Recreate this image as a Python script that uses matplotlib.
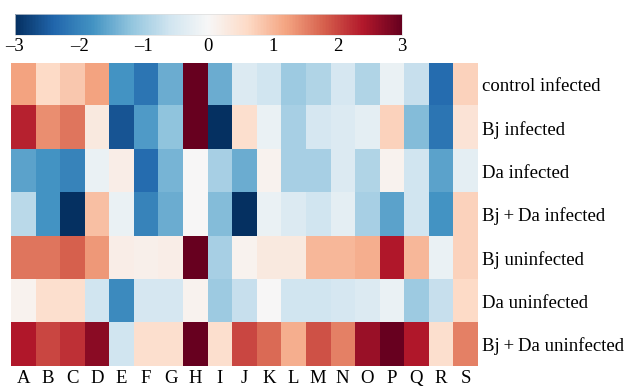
import numpy as np
import matplotlib
matplotlib.use("Agg")
import matplotlib.pyplot as plt

plt.rcParams['font.family'] = ['Liberation Serif', 'DejaVu Serif']

# column labels and row labels
cols = list("ABCDEFGHIJKLMNOPQRS")
rows = ["control infected", "Bj infected", "Da infected", "Bj\u2009+\u2009Da infected",
        "Bj uninfected", "Da uninfected", "Bj\u2009+\u2009Da uninfected"]

# values (z-scores)
control_inf = [1.2, 0.6, 0.8, 1.2, -1.8, -2.2, -1.5, 3.0, -1.5, -0.4, -0.6, -1.1, -0.9, -0.5, -0.9, -0.2, -0.7, -2.3, 0.7]
bj_inf = [2.3, 1.4, 1.6, 0.3, -2.6, -1.7, -1.2, 3.0, -3.0, 0.5, -0.2, -1.0, -0.5, -0.4, -0.3, 0.7, -1.3, -2.2, 0.4]
da_inf = [-1.6, -1.8, -2.0, -0.2, 0.2, -2.3, -1.4, 0.0, -1.0, -1.5, 0.1, -1.0, -1.0, -0.4, -0.9, 0.1, -0.6, -1.6, -0.3]
bjda_inf = [-0.8, -1.8, -3.0, 0.9, -0.2, -2.0, -1.5, 0.0, -1.3, -3.0, -0.2, -0.4, -0.6, -0.3, -1.0, -1.6, -0.6, -1.8, 0.7]
bj_uninf = [1.6, 1.6, 1.8, 1.3, 0.2, 0.15, 0.2, 3.0, -1.0, 0.1, 0.3, 0.3, 1.0, 1.0, 1.1, 2.4, 1.0, -0.2, 0.7]
da_uninf = [0.1, 0.5, 0.5, -0.6, -1.9, -0.5, -0.5, 0.1, -1.1, -0.7, 0.0, -0.6, -0.6, -0.5, -0.4, -0.2, -1.1, -0.7, 0.6]
bjda_uninf = [2.4, 2.0, 2.2, 2.7, -0.6, 0.5, 0.5, 3.0, 0.5, 2.0, 1.7, 1.1, 1.9, 1.5, 2.6, 3.0, 2.4, 0.5, 1.5]

data = np.array([control_inf, bj_inf, da_inf, bjda_inf, bj_uninf, da_uninf, bjda_uninf])

fig = plt.figure(figsize=(6.24, 3.9), dpi=100)

# heatmap
ax = fig.add_axes([0.0176, 0.0615, 0.748, 0.777])
im = ax.imshow(data, cmap='RdBu_r', vmin=-3, vmax=3, aspect='auto', interpolation='nearest')
ax.set_xticks(range(len(cols)))
ax.set_xticklabels(cols, fontsize=13.5)
ax.set_yticks(range(len(rows)))
ax.set_yticklabels(rows, fontsize=13.5)
ax.yaxis.tick_right()
ax.tick_params(length=0, pad=3)
for s in ax.spines.values():
    s.set_visible(False)

# colorbar on top
cax = fig.add_axes([0.024, 0.91, 0.62, 0.054])
cb = fig.colorbar(im, cax=cax, orientation='horizontal')
cb.set_ticks([-3, -2, -1, 0, 1, 2, 3])
cb.set_ticklabels(['\u20133', '\u20132', '\u20131', '0', '1', '2', '3'])
cb.ax.tick_params(length=0, labelsize=13.5, pad=2)
cb.outline.set_linewidth(0.5)
cb.outline.set_edgecolor('#dddddd')

fig.savefig("out.png", dpi=100)
